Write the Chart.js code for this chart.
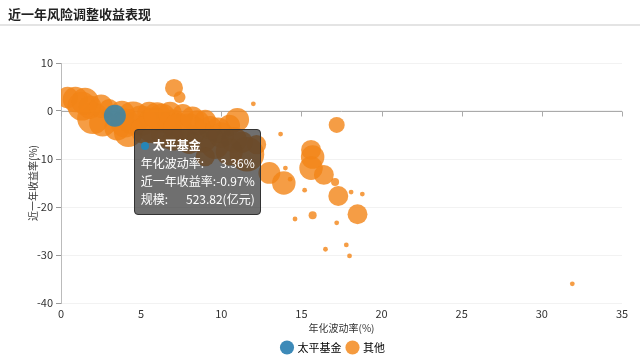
<!DOCTYPE html>
<html>
<head>
<meta charset="utf-8">
<script src="https://cdn.jsdelivr.net/npm/chart.js@4.4.1/dist/chart.umd.min.js"></script>
<style>
    html, body { margin: 0; padding: 0; background: #fff; }
    #wrap { position: relative; width: 640px; height: 355px; overflow: hidden; }
    #head {
        position: absolute; left: 0; top: 0; width: 640px; height: 26px;
        border-bottom: 2px solid #e4e4e4;
        font: bold 13px "Microsoft YaHei", "Noto Sans CJK SC", sans-serif;
        color: #222; line-height: 28px; padding-left: 8px; box-sizing: border-box;
    }
    #chart { position: absolute; left: 0; top: 0; }
    #tip {
        position: absolute; pointer-events: none; opacity: 0;
        background: rgba(50, 50, 50, 0.7); border: 1px solid #333; border-radius: 4px;
        color: #fff; font: 12px "Microsoft YaHei", "Noto Sans CJK SC", sans-serif;
        line-height: 18px; padding: 6px 5px 6px 6px; white-space: nowrap;
    }
    #tip .row { display: flex; justify-content: space-between; }
    #tip .name { font-weight: bold; }
    #tip .dot { display: inline-block; width: 8px; height: 8px; border-radius: 50%; background: #2686b8; margin-right: 4px; }
</style>
</head>
<body>
<div id="wrap">
    <canvas id="chart" width="640" height="355"></canvas>
    <div id="head">近一年风险调整收益表现</div>
    <div id="tip"></div>
</div>
<script>
// 太平基金
const mainName = '太平基金';
const mainVol = [3.36];
const mainRet = [-0.97];
const mainScale = [523.82];

// 其他 funds: volatility (%), 1y return (%), scale (亿元)
const otherVol = [0.4, 0.9, 1.3, 1.8, 2.0, 2.6, 3.0, 3.5, 4.2, 4.5, 5.0, 5.5, 5.8, 6.3, 6.6, 7.05, 7.4, 7.0, 7.6, 8.0,
    8.5, 8.8, 9.3, 9.6, 10.0, 10.5, 11.0, 11.3, 11.6, 9.0,
    1.5, 2.5, 3.8, 4.0, 5.2, 6.0, 6.8, 7.3, 8.2, 9.0, 9.8, 10.5, 10.8, 8.0, 7.0, 12.2,
    12.0, 13.7, 13.0, 13.9, 14.0, 14.3, 15.2, 14.6, 15.6, 15.7, 15.6, 16.4, 17.1, 17.3, 18.5, 15.7, 17.2, 18.1, 18.8,
    16.5, 17.8, 18.0, 17.2, 31.9];
const otherRet = [2.8, 2.4, 1.0, 0.8, -1.5, -2.5, 0.5, -3.5, -4.5, -1.5, -2.0, -0.5, -3.0, -1.5, -4.5, 4.8, 2.9, -2.5, -0.8, -4.0,
    -2.5, -5.5, -3.5, -7.0, -5.0, -8.5, -1.8, -6.5, -9.0, -9.5,
    2.0, 1.0, -0.5, -2.5, -4.0, -1.0, -0.5, -3.5, -1.5, -2.0, -4.0, -3.0, -6.0, -6.5, -6.0, -7.0,
    1.5, -4.8, -12.9, -15.0, -11.9, -14.2, -16.5, -22.5, -8.1, -9.6, -11.9, -13.3, -14.8, -17.7, -21.5, -21.7, -23.3, -16.9, -17.3,
    -28.8, -27.9, -30.2, -2.9, -36.0];
const otherScale = [500, 700, 900, 600, 1100, 800, 400, 700, 900, 1200, 1000, 600, 1400, 900, 1100, 350, 150, 800, 500, 1200,
    700, 1000, 600, 900, 700, 800, 600, 500, 1300, 400,
    800, 600, 700, 900, 800, 800, 600, 900, 600, 500, 700, 500, 700, 600, 500, 400,
    25, 25, 520, 600, 25, 25, 25, 25, 430, 600, 600, 430, 70, 430, 430, 70, 25, 25, 25,
    25, 25, 25, 280, 25];

const xTicks = [0, 5, 10, 15, 20, 25, 30, 35];
const yTicks = [-40, -30, -20, -10, 0, 10];

const radiusOf = s => 0.48 * Math.sqrt(s);
const toPoints = (xs, ys, ss) => xs.map((x, i) => ({ x: x, y: ys[i], r: radiusOf(ss[i]), scale: ss[i] }));

Chart.defaults.font.family = '"Microsoft YaHei", "Noto Sans CJK SC", sans-serif';
Chart.defaults.color = '#333';

// x axis line sits on y = 0, with small tick marks below it
const zeroLine = {
    id: 'zeroLine',
    beforeDatasetsDraw(chart) {
        const { ctx, chartArea, scales } = chart;
        const y0 = Math.round(scales.y.getPixelForValue(0)) + 0.5;
        ctx.save();
        ctx.strokeStyle = '#aaa';
        ctx.lineWidth = 1;
        ctx.beginPath();
        ctx.moveTo(chartArea.left, y0);
        ctx.lineTo(chartArea.right, y0);
        xTicks.forEach(v => {
            const x = Math.round(scales.x.getPixelForValue(v)) + 0.5;
            ctx.moveTo(x, y0);
            ctx.lineTo(x, y0 + 5);
        });
        ctx.stroke();
        ctx.restore();
    }
};

// nudge the legend a bit to the right, like the original
const legendShift = {
    id: 'legendShift',
    afterLayout(chart) {
        if (chart.legend) {
            chart.legend.left += 9;
            chart.legend.right += 9;
        }
    }
};

function externalTip(context) {
    const { tooltip } = context;
    const el = document.getElementById('tip');
    if (tooltip.opacity === 0 || !tooltip.dataPoints || !tooltip.dataPoints.length) {
        el.style.opacity = 0;
        return;
    }
    const p = tooltip.dataPoints[0].raw;
    const name = tooltip.dataPoints[0].dataset.label;
    el.innerHTML =
        `<div><span class="dot"></span><span class="name">${name}</span></div>` +
        `<div class="row"><span>年化波动率:</span><span>${p.x.toFixed(2)}%</span></div>` +
        `<div class="row"><span>近一年收益率:</span><span>${p.y.toFixed(2)}%</span></div>` +
        `<div class="row"><span>规模:</span><span>${p.scale.toFixed(2)}(亿元)</span></div>`;
    el.style.left = (tooltip.caretX + 19) + 'px';
    el.style.top = (tooltip.caretY + 13) + 'px';
    el.style.opacity = 1;
}

const ctx = document.getElementById('chart').getContext('2d');
const chart = new Chart(ctx, {
    type: 'bubble',
    data: {
        datasets: [{
            label: mainName,
            data: toPoints(mainVol, mainRet, mainScale),
            backgroundColor: 'rgba(38, 133, 184, 0.8)',
            borderWidth: 0,
            hoverRadius: 0,
            hoverBorderWidth: 0,
            hoverBackgroundColor: 'rgba(38, 133, 184, 0.8)'
        }, {
            label: '其他',
            data: toPoints(otherVol, otherRet, otherScale),
            backgroundColor: 'rgba(243, 133, 22, 0.8)',
            borderWidth: 0,
            hoverRadius: 0,
            hoverBorderWidth: 0,
            hoverBackgroundColor: 'rgba(243, 133, 22, 0.8)'
        }]
    },
    options: {
        responsive: false,
        animation: false,
        layout: {
            padding: { top: 63, right: 18, left: 27, bottom: 0 }
        },
        scales: {
            x: {
                type: 'linear',
                min: 0,
                max: 35,
                afterBuildTicks: axis => { axis.ticks = xTicks.map(v => ({ value: v })); },
                afterFit: axis => { axis.height = 33; },
                grid: { display: false, drawTicks: false },
                border: { display: false },
                ticks: { font: { size: 11 }, color: '#333', padding: 4 },
                title: { display: true, text: '年化波动率(%)', font: { size: 10 }, color: '#333', padding: { top: 0, bottom: 2 } }
            },
            y: {
                min: -40,
                max: 10,
                afterBuildTicks: axis => { axis.ticks = yTicks.map(v => ({ value: v })); },
                afterFit: axis => { axis.width = 34; },
                grid: { color: '#f2f2f2', tickColor: '#999', tickLength: 5 },
                border: { color: '#bbb' },
                ticks: { font: { size: 11 }, color: '#333', padding: 3 },
                title: { display: true, text: '近一年收益率(%)', font: { size: 10 }, color: '#333', padding: 0 }
            }
        },
        plugins: {
            legend: {
                position: 'bottom',
                maxHeight: 19,
                labels: {
                    usePointStyle: true,
                    pointStyle: 'circle',
                    boxWidth: 10,
                    boxHeight: 10,
                    padding: 6,
                    font: { size: 11, lineHeight: 1 },
                    color: '#333',
                    generateLabels: c => c.data.datasets.map((ds, i) => ({
                        text: ds.label,
                        fillStyle: i === 0 ? '#3d8ab8' : '#f59b3f',
                        strokeStyle: 'transparent',
                        lineWidth: 0,
                        pointStyle: 'circle',
                        datasetIndex: i
                    }))
                }
            },
            tooltip: {
                enabled: false,
                external: externalTip
            }
        }
    },
    plugins: [zeroLine, legendShift]
});

const target = chart.getDatasetMeta(0).data[0];
chart.tooltip.setActiveElements([{ datasetIndex: 0, index: 0 }], { x: target.x, y: target.y });
chart.setActiveElements([{ datasetIndex: 0, index: 0 }]);
chart.update();
</script>
</body>
</html>
